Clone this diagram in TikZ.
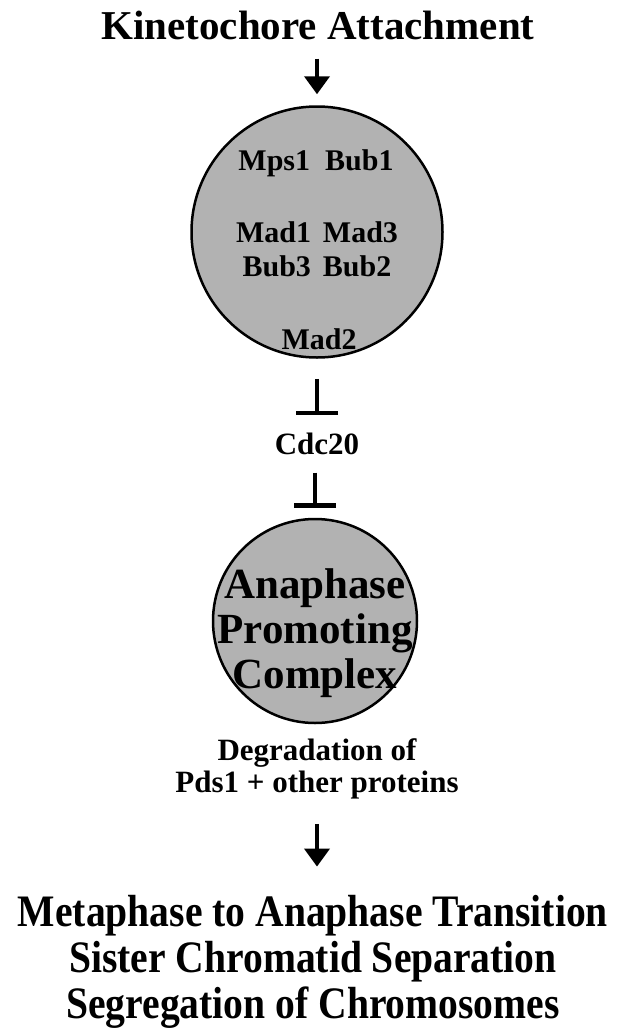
\documentclass[tikz,border=0pt]{standalone}
\usepackage{fontspec}
\setmainfont{Liberation Serif}
\newfontfamily\condfont{Liberation Serif}[FakeStretch=0.88]
\usetikzlibrary{arrows.meta}
\definecolor{halftone}{gray}{0.70}
\begin{document}
\begin{tikzpicture}[x=1pt,y=-1pt,
  lbl/.style={font=\bfseries, inner sep=0pt, anchor=base},
  head/.style={lbl, font=\fontsize{41}{45}\selectfont\bfseries},
  apc/.style={lbl, font=\fontsize{43}{47}\selectfont\bfseries},
  foot/.style={lbl, font=\condfont\fontsize{45}{47}\selectfont\bfseries},
  mid/.style={lbl, font=\fontsize{30}{34}\selectfont\bfseries},
  small/.style={lbl, font=\fontsize{31}{34}\selectfont\bfseries},
  blob/.style={circle, draw=black, line width=2.5pt, fill=halftone, inner sep=0pt},
  arr/.style={line width=4pt, -{Triangle[width=25pt,length=18pt]}},
  inh/.style={line width=4.5pt, -{Bar[width=42pt]}}
]
\useasboundingbox[fill=white] (0,0) rectangle (627,1036);

\node[head] (title) at (318,39) {Kinetochore Attachment};

\node[blob, minimum size=251pt] (c1) at (317,232) {};
\node[mid] (t1) at (316,170) {Mps1\hspace{0.5em}Bub1};
\node[mid] (t2) at (317,242) {Mad1\hspace{0.4em}Mad3};
\node[mid] (t3) at (317,276) {Bub3\hspace{0.4em}Bub2};
\node[mid] (t4) at (319,349) {Mad2};

\node[small] (cdc) at (317,454) {Cdc20};

\node[blob, minimum size=204pt] (c2) at (315,621) {};
\node[apc] (a1) at (315,598) {Anaphase};
\node[apc] (a2) at (315,643) {Promoting};
\node[apc] (a3) at (315,688) {Complex};

\node[small] (d1) at (317,760) {Degradation of};
\node[small] (d2) at (317,792) {Pds1 + other proteins};

\node[foot] (m1) at (313,926) {Metaphase to Anaphase Transition};
\node[foot] (m2) at (313,972) {Sister Chromatid Separation};
\node[foot] (m3) at (313,1018) {Segregation of Chromosomes};

\draw[arr, shorten <=19pt, shorten >=11pt] (title.south -| c1.north) -- (c1.north);
\draw[inh, shorten <=20pt, shorten >=17pt] (c1.south) -- (c1.south |- cdc.north);
\draw[inh, shorten <=18pt, shorten >=10pt] (cdc.south -| c2.north) -- (c2.north);
\draw[arr, shorten <=25pt, shorten >=28pt] (d2.south) -- (d2.south |- m1.north);
\end{tikzpicture}
\end{document}
